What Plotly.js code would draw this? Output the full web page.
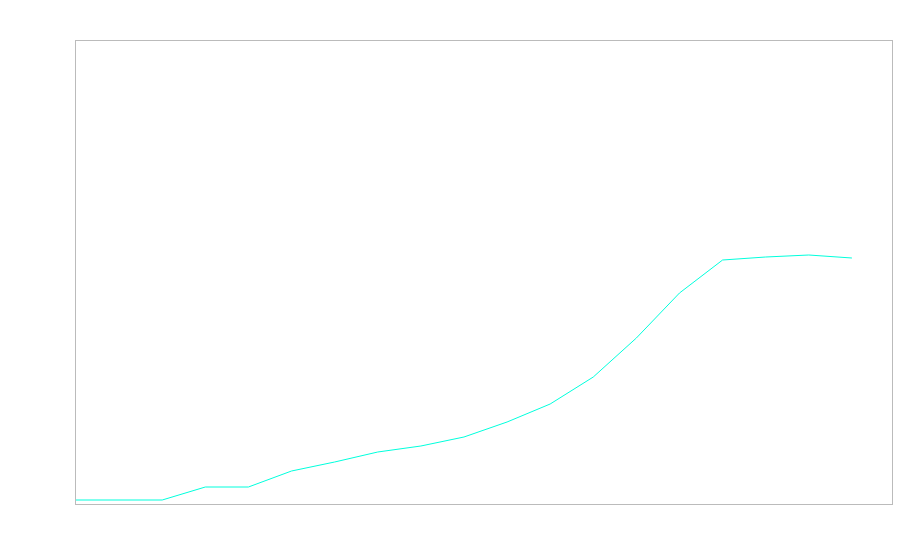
<!DOCTYPE html>
<html>
<head>
<meta charset="utf-8">
<script src="https://cdn.plot.ly/plotly-3.0.1.min.js"></script>
<style>html,body{margin:0;padding:0;background:#fff;}#chart{width:900px;height:560px;}</style>
</head>
<body>
<div id="chart"></div>
<script>
const xValues = [0,1,2,3,4,5,6,7,8,9,10,11,12,13,14,15,16,17,18];
const yValues = [4,4,4,17,17,33,42,52,58,67,82,100,127,166,211,244,247,249,246];

const trace = {
  x: xValues,
  y: yValues,
  type: 'scatter',
  mode: 'lines',
  line: {color: 'rgb(0,255,221)', width: 1},
  hoverinfo: 'none'
};

const axisStyle = {
  showgrid: false,
  zeroline: false,
  showticklabels: false,
  ticks: '',
  showline: true,
  mirror: true,
  linecolor: '#bbbbbb',
  linewidth: 1
};

const layout = {
  width: 900,
  height: 560,
  margin: {l: 76, r: 8, t: 41, b: 56},
  paper_bgcolor: '#ffffff',
  plot_bgcolor: '#ffffff',
  showlegend: false,
  xaxis: Object.assign({range: [0, 18.93]}, axisStyle),
  yaxis: Object.assign({range: [0, 463]}, axisStyle)
};

Plotly.newPlot('chart', [trace], layout, {staticPlot: true, displayModeBar: false});
</script>
</body>
</html>
